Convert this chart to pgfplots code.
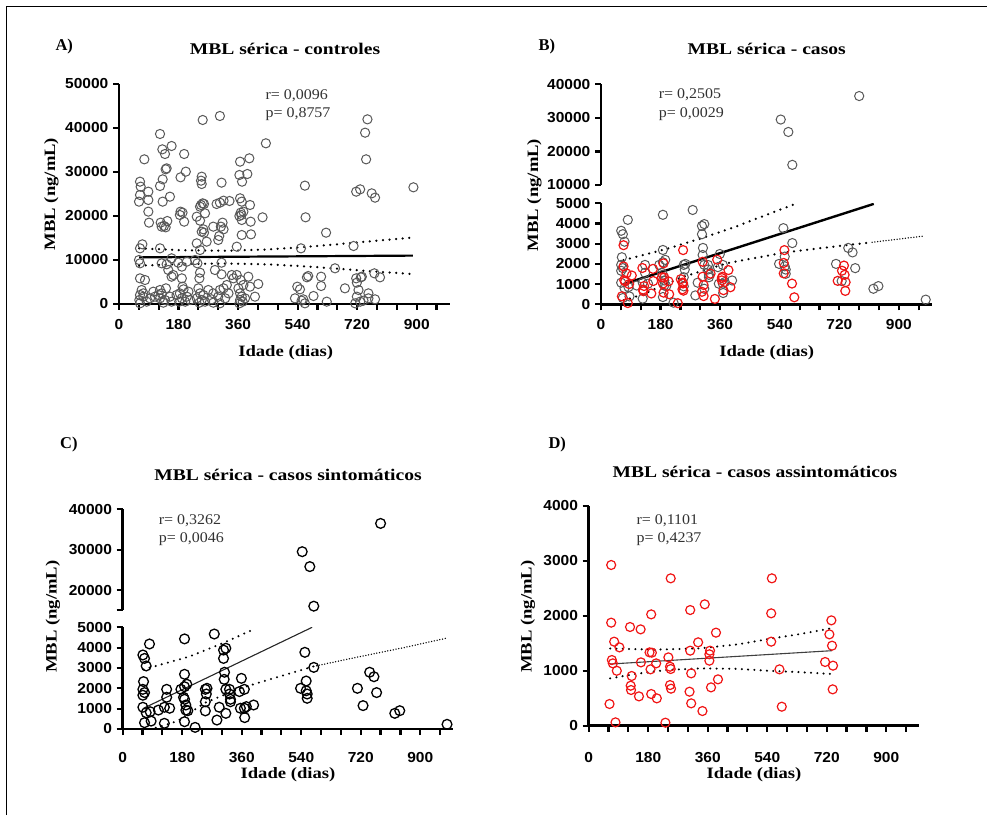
\documentclass[border=0pt]{standalone}
\usepackage{fontspec}
\setmainfont{Liberation Serif}
\newfontfamily\sansf{Liberation Sans}
\usepackage{pgfplots}
\usepackage{pgfplotstable}
\pgfplotsset{compat=1.18}

\definecolor{ptgray}{RGB}{88,88,88}
\definecolor{ptred}{RGB}{240,20,20}
\definecolor{anngray}{RGB}{50,50,50}

\newcommand\tickfont{\sansf\bfseries\fontsize{14.5}{14.5}\selectfont}
\newcommand\titfont{\bfseries\fontsize{16.3}{16.3}\selectfont}
\newcommand\labfont{\bfseries\fontsize{15.8}{15.8}\selectfont}
\newcommand\annfont{\fontsize{14.8}{14.8}\selectfont}
\newcommand\ltrfont{\bfseries\fontsize{16.5}{16.5}\selectfont}

\pgfplotstableread{
x y
63.5 27800
65.5 26670
76.6 32880
63.5 24770
60.5 23260
88.7 25530
88.7 23640
88.7 20990
90.7 18490
70.6 13560
63.5 12650
60.5 10000
63.5 9240
63.5 5830
78.6 5450
68.5 3180
63.5 2050
73.6 1670
61.5 910
83.7 530
63.5 150
103.8 2800
108.9 1670
93.7 1290
73.6 2420
124 38640
131 35150
139 34090
159 35910
144 30830
141 30610
132 28330
124 26820
132 23260
154 24390
126 18490
136 17730
141 17420
146 18860
129 17580
124 12650
129 9240
144 9020
149 7730
159 10380
159 6210
142 3560
124 3180
129 2420
124 1290
139 910
134 300
154 1670
159 530
164 6590
119 2050
197 34090
202 30080
186 28790
186 20990
192 20760
184 20230
197 18710
179 9390
190 8490
205 9620
190 5830
192 3940
195 3330
184 2420
205 1670
190 1290
182 530
200 530
174 2050
215 910
210 2800
253 41820
235 19850
245 18940
250 28940
248 28030
250 27270
253 22880
248 22500
257 22730
245 22120
260 20610
255 16970
250 16440
257 16210
265 14170
235 13790
245 12270
230 10000
237 9240
245 7120
243 5830
240 3560
245 2420
255 2050
235 1290
250 910
260 530
243 300
270 3180
280 1060
305 42730
310 27580
295 22730
305 23030
316 23480
334 23410
313 18490
308 17580
316 16970
303 15450
300 14550
285 17580
310 9390
290 7730
310 6740
326 4320
316 3560
305 3180
285 2420
300 1670
321 1290
305 150
285 300
341 6590
346 5830
331 2420
356 13030
364 20000
368 20760
370 20230
371 19090
376 20990
366 24020
371 23260
366 32350
364 29320
372 27800
371 15680
394 33110
388 29550
396 22500
398 18710
399 15830
368 5450
376 4320
361 3560
366 2420
371 1670
366 910
374 530
364 150
391 6210
396 3940
411 1670
356 6590
381 1290
421 4550
434 19700
444 36520
550 12650
562 26900
564 19700
539 3940
547 3330
568 6060
572 6360
532 1290
557 1060
562 150
552 760
588 1820
611 6210
611 4090
626 16210
628 530
653 8110
683 3560
709 13180
717 25530
729 26060
747 32880
744 38940
751 41970
764 25150
774 24170
719 4850
717 5830
731 6060
734 6210
724 3180
719 1670
729 530
714 150
739 760
754 1290
754 2420
774 1060
772 6970
789 6060
890 26520
}\tabA

\pgfplotstableread{
x y
61 3640
66 3470
71 3100
81 4180
63 2330
61 1950
66 1790
61 1660
61 1070
71 800
66 310
86 390
83 850
108 930
126 1070
126 280
133 1950
133 1560
142 1020
187 4430
187 2690
176 1950
187 2080
194 2200
184 1560
187 1460
191 1180
191 930
197 900
187 360
219 80
250 1950
253 1720
250 1340
250 890
255 2000
277 4670
285 440
292 1070
305 3880
312 3970
305 3470
308 2790
307 2440
312 1950
312 770
323 1950
323 1720
326 1460
326 1340
353 1840
359 2490
368 1950
356 1020
368 1020
374 1100
369 560
396 1180
538 2000
551 3770
555 2360
555 1880
558 1720
558 1510
578 3030
710 2000
727 1150
747 2790
760 2570
768 1790
823 770
838 900
981 230
}\tabSlo

\pgfplotstableread{
x y
543 29500
566 25800
578 16000
780 36500
}\tabShi

\pgfplotstableread{
x y
68 2926
68 1876
77 1530
93 1426
70 1196
73 1135
85 1000
63 395
81 61
125 1797
157 1754
130 905
127 728
128 650
152 534
158 1153
189 2027
184 1335
191 1330
187 1026
204 1135
189 577
206 498
232 55
241 1244
246 1074
248 1032
248 2683
246 740
249 674
307 2106
307 1366
310 953
305 619
310 407
331 1518
351 2210
344 267
367 1366
365 1300
365 1184
370 698
385 1694
391 844
554 2683
552 2046
552 1530
577 1026
584 346
715 1160
728 1663
734 1918
736 1457
739 1093
738 662
}\tabAsy

\tikzset{
  dotsA/.style={black, line width=2.5pt, line cap=round, dash pattern=on 0pt off 6.6pt},
  dotsB/.style={black, line width=2.3pt, line cap=round, dash pattern=on 0pt off 6.3pt},
  dotsfine/.style={black, line width=1.5pt, line cap=round, dash pattern=on 0pt off 2.8pt},
}

\pgfplotsset{
 myax/.style={scale only axis, enlargelimits=false, xmin=0, xmax=1000,
   axis line style={line width=2.5pt},
   tick align=outside,
   every tick/.append style={line width=2.2pt, black},
   major tick length=6pt, minor tick length=6pt,
   tick label style={font=\tickfont},
   yticklabel style={anchor=east, inner sep=0pt, xshift=-4.5pt, xscale=1.07},
   xticklabel style={anchor=north, inner sep=0pt, yshift=-9pt, xscale=1.07},
   scaled ticks=false, clip=true},
 lowax/.style={myax, axis x line*=bottom, axis y line*=left,
   xtick={0,180,360,540,720,900}, xticklabels={0,180,360,540,720,900},
   minor xtick={60,120,240,300,420,480,600,660,780,840,960}},
 upax/.style={myax, axis x line=none, axis y line*=left, xtick=\empty},
 grayo/.style={only marks, mark=o, mark size=4.6pt, ptgray, mark options={line width=1pt}},
 blacko/.style={only marks, mark=o, mark size=4.9pt, black, mark options={line width=1.3pt}},
 redo/.style={only marks, mark=o, mark size=4.5pt, ptred, mark options={line width=1.2pt}},
}

\begin{document}
\begin{tikzpicture}
\useasboundingbox (0,0) rectangle (987pt,815pt);
\draw[line width=1.6pt] (6.5pt,0pt) -- (6.5pt,808.5pt) -- (987pt,808.5pt);

% ---------------- Panel A ----------------
\begin{axis}[lowax, at={(119pt,511pt)}, anchor=south west, width=330.8pt, height=220pt,
  ymin=0, ymax=50000, ytick={0,10000,20000,30000,40000,50000},
  yticklabels={0,10000,20000,30000,40000,50000}]
\addplot[grayo] table {\tabA};
\addplot[black, line width=2.2pt] coordinates {(61,10600) (888,11000)};
\addplot[dotsA] coordinates {(61,12650) (200,12200) (330,12100) (450,12400) (550,12900) (650,13500) (750,14200) (888,15100)};
\addplot[dotsA] coordinates {(61,8700) (200,9100) (330,9200) (450,9000) (550,8600) (650,8100) (750,7500) (888,6800)};
\end{axis}
\node[font=\ltrfont, anchor=base west] at (52pt,764.3pt) {A)};
\node[font=\titfont, anchor=base, xscale=1.2] at (285pt,760pt) {MBL sérica - controles};
\node[font=\labfont, anchor=base, xscale=1.18] at (285.7pt,458pt) {Idade (dias)};
\node[font=\labfont, anchor=base, rotate=90, xscale=1.18] at (55pt,621pt) {MBL (ng/mL)};
\node[font=\annfont, text=anngray, anchor=base west, xscale=1.08] at (261.7pt,715.7pt) {r= 0,0096};
\node[font=\annfont, text=anngray, anchor=base west, xscale=1.08] at (261.7pt,697.7pt) {p= 0,8757};

% ---------------- Panel B ----------------
\begin{axis}[lowax, at={(601pt,510.7pt)}, anchor=south west, width=331pt, height=101pt,
  ymin=0, ymax=5000, ytick={0,1000,2000,3000,4000,5000},
  yticklabels={0,1000,2000,3000,4000,5000}]
\addplot[grayo] table {\tabSlo};
\addplot[redo] table {\tabAsy};
\addplot[black, line width=2.4pt] coordinates {(68,1000) (824,4970)};
\addplot[dotsA] coordinates {(68,2190) (200,2750) (300,3250) (400,3800) (500,4430) (587,4970)};
\addplot[dotsA] coordinates {(68,200) (120,450) (244,1340) (380,2030) (552,2560) (700,2850) (819,3070)};
\addplot[dotsfine] coordinates {(819,3070) (976,3380)};
\end{axis}
\begin{axis}[upax, at={(601pt,630pt)}, anchor=south west, width=331pt, height=100.7pt,
  ymin=10000, ymax=40000, ytick={10000,20000,30000,40000},
  yticklabels={10000,20000,30000,40000}]
\addplot[grayo] table {\tabShi};
\end{axis}
\node[font=\ltrfont, anchor=base west] at (535pt,764.3pt) {B)};
\node[font=\titfont, anchor=base, xscale=1.2] at (766.7pt,760pt) {MBL sérica - casos};
\node[font=\labfont, anchor=base, xscale=1.18] at (766.7pt,458pt) {Idade (dias)};
\node[font=\labfont, anchor=base, rotate=90, xscale=1.18] at (538pt,620pt) {MBL (ng/mL)};
\node[font=\annfont, text=anngray, anchor=base west, xscale=1.08] at (655pt,716pt) {r= 0,2505};
\node[font=\annfont, text=anngray, anchor=base west, xscale=1.08] at (655pt,697.7pt) {p= 0,0029};

% ---------------- Panel C ----------------
\begin{axis}[lowax, at={(122.7pt,86pt)}, anchor=south west, width=330.6pt, height=101.7pt,
  ymin=0, ymax=5000, ytick={0,1000,2000,3000,4000,5000},
  yticklabels={0,1000,2000,3000,4000,5000},
  xticklabel style={yshift=-7.7pt}]
\addplot[blacko] table {\tabSlo};
\addplot[black!85, line width=1.1pt] coordinates {(63,1020) (573,5000)};
\addplot[dotsB] coordinates {(63,2930) (200,3550) (300,4200) (396,4900)};
\addplot[dotsB] coordinates {(63,-100) (120,150) (167,400) (250,1300) (356,2000) (457,2500) (578,3080)};
\addplot[dotsfine] coordinates {(578,3080) (700,3500) (850,4000) (978,4460)};
\end{axis}
\begin{axis}[upax, at={(122.7pt,204.8pt)}, anchor=south west, width=330.6pt, height=100.9pt,
  ymin=15000, ymax=40000, ytick={15000,20000,30000,40000},
  yticklabels={,20000,30000,40000}]
\addplot[blacko] table {\tabShi};
\end{axis}
\node[font=\ltrfont, anchor=base west] at (56.7pt,366.7pt) {C)};
\node[font=\titfont, anchor=base, xscale=1.2] at (288pt,335pt) {MBL sérica - casos sintomáticos};
\node[font=\labfont, anchor=base, xscale=1.18] at (288pt,37pt) {Idade (dias)};
\node[font=\labfont, anchor=base, rotate=90, xscale=1.18] at (56.5pt,198.3pt) {MBL (ng/mL)};
\node[font=\annfont, text=anngray, anchor=base west, xscale=1.08] at (155pt,291pt) {r= 0,3262};
\node[font=\annfont, text=anngray, anchor=base west, xscale=1.08] at (155pt,272.7pt) {p= 0,0046};

% ---------------- Panel D ----------------
\begin{axis}[lowax, at={(588.7pt,89.3pt)}, anchor=south west, width=330.6pt, height=219.7pt,
  ymin=0, ymax=4000, ytick={0,1000,2000,3000,4000},
  yticklabels={0,1000,2000,3000,4000},
  xticklabel style={yshift=-11pt}]
\addplot[redo] table {\tabAsy};
\addplot[black!75, line width=1.1pt] coordinates {(65,1123) (736,1366)};
\addplot[dotsB] coordinates {(65,1405) (200,1385) (337,1408) (450,1480) (539,1572) (640,1670) (736,1775)};
\addplot[dotsB] coordinates {(65,862) (150,950) (236,1014) (337,1044) (450,1035) (539,1002) (640,975) (736,941)};
\end{axis}
\node[font=\ltrfont, anchor=base west] at (545pt,366.7pt) {D)};
\node[font=\titfont, anchor=base, xscale=1.2] at (755pt,337.3pt) {MBL sérica - casos assintomáticos};
\node[font=\labfont, anchor=base, xscale=1.18] at (754pt,37pt) {Idade (dias)};
\node[font=\labfont, anchor=base, rotate=90, xscale=1.18] at (531.5pt,198.3pt) {MBL (ng/mL)};
\node[font=\annfont, text=anngray, anchor=base west, xscale=1.08] at (632.7pt,291pt) {r= 0,1101};
\node[font=\annfont, text=anngray, anchor=base west, xscale=1.08] at (632.7pt,272.7pt) {p= 0,4237};
\end{tikzpicture}
\end{document}
